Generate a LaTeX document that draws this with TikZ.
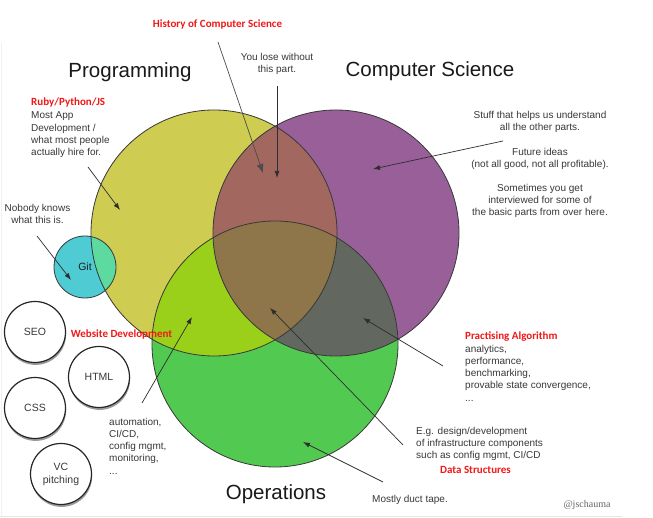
\documentclass[tikz,border=0pt]{standalone}
\usepackage{fontspec}
\setmainfont{Liberation Sans}
\newfontfamily\redfont{Carlito}
\newfontfamily\tagfont{Liberation Serif}
\usetikzlibrary{arrows.meta,shadows}
\definecolor{cY}{HTML}{CFCC52}
\definecolor{cP}{HTML}{995F98}
\definecolor{cG}{HTML}{52CA52}
\definecolor{cYP}{HTML}{A2685F}
\definecolor{cYG}{HTML}{9AD01A}
\definecolor{cPG}{HTML}{626860}
\definecolor{cYPG}{HTML}{8E754A}
\definecolor{cC}{HTML}{4ECBD3}
\definecolor{cCY}{HTML}{5CDAA0}
\definecolor{txt}{HTML}{383838}
\definecolor{redlab}{HTML}{F01818}
\tikzset{
  vennline/.style={circle, minimum size=246pt, inner sep=0pt, draw=black!78, line width=0.8pt},
  gitline/.style={circle, minimum size=62pt, inner sep=0pt, draw=black!78, line width=0.8pt, text=black!90, font=\fontsize{10.5}{12}\selectfont},
  bubble/.style={circle, minimum size=61pt, inner sep=0pt, fill=white, draw=black!85, line width=1.2pt,
    drop shadow={shadow xshift=0.6pt, shadow yshift=-2.4pt, opacity=0.4, fill=black},
    text=txt, align=center, font=\fontsize{10.5}{13}\selectfont},
  title/.style={inner sep=0pt, text=black!90, font=\fontsize{20.5}{24}\selectfont},
  note/.style={inner sep=0pt, text=txt, font=\fontsize{10}{12.2}\selectfont},
  redtag/.style={inner sep=0pt, text=redlab, font=\redfont\bfseries\fontsize{11}{13}\selectfont},
  conn/.style={draw=black!82, line width=0.7pt, -{Latex[length=7pt,width=5pt]}},
  histconn/.style={draw=black!70, line width=0.7pt, -{Latex[length=9pt,width=7pt]}, black!70},
}
\begin{document}
\begin{tikzpicture}[x=1pt,y=-1pt]
\useasboundingbox (0,0) rectangle (653,518);
\fill[white] (0,0) rectangle (653,518);
\draw[black!10, line width=0.8pt] (0,516.5) -- (622,516.5);
\draw[black!6, line width=0.6pt] (1.5,43) -- (1.5,516);

\coordinate (cy) at (214,233);
\coordinate (cp) at (336,233);
\coordinate (cg) at (275,344);
\coordinate (cgit) at (85,267);

% base fills
\fill[cY] (cy) circle[radius=123pt];
\fill[cP] (cp) circle[radius=123pt];
\fill[cG] (cg) circle[radius=123pt];
\begin{scope}\clip (cy) circle[radius=123pt]; \fill[cYP] (cp) circle[radius=123pt]; \end{scope}
\begin{scope}\clip (cy) circle[radius=123pt]; \fill[cYG] (cg) circle[radius=123pt]; \end{scope}
\begin{scope}\clip (cp) circle[radius=123pt]; \fill[cPG] (cg) circle[radius=123pt]; \end{scope}
\begin{scope}\clip (cy) circle[radius=123pt]; \clip (cp) circle[radius=123pt]; \fill[cYPG] (cg) circle[radius=123pt]; \end{scope}
\fill[cC] (cgit) circle[radius=31pt];
\begin{scope}\clip (cy) circle[radius=123pt]; \fill[cCY] (cgit) circle[radius=31pt]; \end{scope}

% outlines
\node[vennline] (Y) at (cy) {};
\node[vennline] (P) at (cp) {};
\node[vennline] (G) at (cg) {};
\node[gitline] (git) at (cgit) {Git};

% bubbles
\node[bubble] (seo) at (35,332) {SEO};
\node[bubble] (html) at (99,377) {HTML};
\node[bubble] (css) at (35,408) {CSS};
\node[bubble] (vc) at (61,474) {VC\\pitching};

% titles
\node[title] (prog) at (130,72.5) {Programming};
\node[title] (cs) at (430,71.5) {Computer Science};
\node[title] (ops) at (276,494.5) {Operations};

% red tags
\node[redtag, anchor=base] (hist) at (217.5,27.5) {History of Computer Science};
\node[redtag, anchor=base west] (ruby) at (31,106) {Ruby/Python/JS};
\node[redtag, anchor=base] (web) at (121.5,337.5) {Website Development};
\node[redtag, anchor=base west] (algo) at (465,339.5) {Practising Algorithm};
\node[redtag, anchor=base] (ds) at (475.5,473.5) {Data Structures};

% notes (anchored at the baseline of their last line)
\node[note, anchor=base, align=center] (lose) at (277,72.3) {You lose without\\this part.};
\node[note, anchor=base west, align=left] (app) at (31,155.5) {Most App\\Development /\\what most people\\actually hire for.};
\node[note, anchor=base, align=center] (csn) at (540,215.5) {Stuff that helps us understand\\all the other parts.\\[12.5pt]Future ideas\\(not all good, not all profitable).\\[11pt]Sometimes you get\\interviewed for some of\\the basic parts from over here.};
\node[note, anchor=base, align=center] (nobody) at (37.5,223.5) {Nobody knows\\what this is.};
\node[note, anchor=base west, align=left] (auto) at (109,474) {automation,\\CI/CD,\\config mgmt,\\monitoring,\\...};
\node[note, anchor=base west, align=left] (anal) at (465,401) {analytics,\\performance,\\benchmarking,\\provable state convergence,\\...};
\node[note, anchor=base west, align=left] (eg) at (416,458.5) {E.g. design/development\\of infrastructure components\\such as config mgmt, CI/CD};
\node[note, anchor=base] (duct) at (410,502.5) {Mostly duct tape.};
\node[inner sep=0pt, anchor=base, text=black!60, font=\tagfont\fontsize{10}{12}\selectfont] (tag) at (587,507) {@jschauma};

% connector ends
\coordinate (hs) at (218,42);   \coordinate (ht) at (263,173);
\coordinate (ls) at (277,86);   \coordinate (lt) at (277,178);
\coordinate (rs) at (88,167);   \coordinate (rt) at (120,210);
\coordinate (ss) at (503,141);  \coordinate (st) at (373,169);
\coordinate (ns) at (37,236);   \coordinate (nt) at (71,280);
\coordinate (as) at (142,403);  \coordinate (at) at (192,317);
\coordinate (es) at (403,445);  \coordinate (et) at (270,308);
\coordinate (ps) at (443,366);  \coordinate (pt) at (363,318);
\coordinate (ds2) at (383,482); \coordinate (dt) at (303,442);

\draw[histconn] (hs) -- (ht);
\draw[conn] (ls) -- (lt);
\draw[conn] (rs) -- (rt);
\draw[conn] (ss) -- (st);
\draw[conn] (ns) -- (nt);
\draw[conn] (as) -- (at);
\draw[conn] (es) -- (et);
\draw[conn] (ps) -- (pt);
\draw[conn] (ds2) -- (dt);
\end{tikzpicture}
\end{document}
